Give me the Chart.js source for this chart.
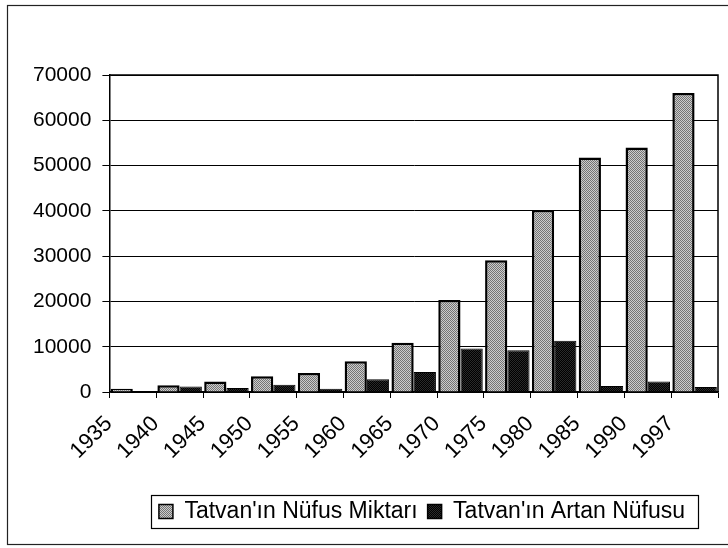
<!DOCTYPE html>
<html>
<head>
<meta charset="utf-8">
<script src="https://cdn.jsdelivr.net/npm/chart.js@4"></script>
<style>
  html, body { margin: 0; padding: 0; background: #fff; }
  #wrap { width: 728px; height: 548px; }
</style>
</head>
<body>
<div id="wrap"><canvas id="myChart" width="728" height="548"></canvas></div>
<script>
var years = ['1935', '1940', '1945', '1950', '1955', '1960', '1965', '1970', '1975', '1980', '1985', '1990', '1997'];
var nufusMiktari = [700, 1500, 2300, 3500, 4200, 6800, 10900, 20300, 29100, 40200, 51800, 54000, 66000];
var artanNufus = [100, 1200, 900, 1600, 700, 2800, 4400, 9600, 9200, 11300, 1300, 2300, 1100];
var yTicks = [0, 10000, 20000, 30000, 40000, 50000, 60000, 70000];

// dithered fills like the scanned print
function makePattern(light, dark) {
    var c = document.createElement('canvas');
    c.width = 4; c.height = 4;
    var p = c.getContext('2d');
    p.fillStyle = light;
    p.fillRect(0, 0, 4, 4);
    p.fillStyle = dark;
    for (var y = 0; y < 4; y++) {
        for (var x = 0; x < 4; x++) {
            if ((x + y) % 2 === 0) p.fillRect(x, y, 1, 1);
        }
    }
    return p.createPattern(c, 'repeat');
}
var grayFill = makePattern('#cccccc', '#747474');
var darkFill = makePattern('#000000', '#2a2a2a');

var FONT = "'Liberation Sans', Arial, sans-serif";

var framePlugin = {
    id: 'frames',
    afterLayout: function(chart) {
        // legend sits a bit right of centre in the original
        chart.legend.left += 52;
        chart.legend.right += 52;
    },
    afterDraw: function(chart) {
        var ctx = chart.ctx, a = chart.chartArea;
        ctx.save();
        ctx.strokeStyle = '#000';
        ctx.lineWidth = 1.5;
        ctx.beginPath();
        ctx.moveTo(a.left, a.top);
        ctx.lineTo(a.right, a.top);
        ctx.lineTo(a.right, a.bottom);
        ctx.stroke();

        // outer border
        ctx.lineWidth = 1.2;
        ctx.strokeStyle = '#222';
        ctx.strokeRect(7.5, 5.5, 740, 539);

        // legend outline
        var hb = chart.legend.legendHitBoxes;
        if (hb && hb.length) {
            var first = hb[0], last = hb[hb.length - 1];
            var x0 = first.left - 8;
            var x1 = last.left + last.width + 13;
            var yc = first.top + first.height / 2;
            ctx.lineWidth = 1.2;
            ctx.strokeStyle = '#000';
            ctx.strokeRect(Math.round(x0) + 0.5, Math.round(yc - 17) + 0.5, Math.round(x1 - x0), 33);
        }
        ctx.restore();
    }
};

var ctx = document.getElementById('myChart').getContext('2d');
var myChart = new Chart(ctx, {
    type: 'bar',
    data: {
        labels: years,
        datasets: [{
            label: "Tatvan'ın Nüfus Miktarı",
            data: nufusMiktari,
            backgroundColor: grayFill,
            borderColor: '#000',
            borderWidth: 2.5,
            barPercentage: 1.0,
            categoryPercentage: 0.95
        }, {
            label: "Tatvan'ın Artan Nüfusu",
            data: artanNufus,
            backgroundColor: darkFill,
            borderColor: '#000',
            borderWidth: 1,
            barPercentage: 1.0,
            categoryPercentage: 0.95
        }]
    },
    options: {
        responsive: false,
        animation: false,
        layout: {
            padding: { top: 75, left: 22, right: 10, bottom: 15 }
        },
        plugins: {
            legend: {
                position: 'bottom',
                align: 'center',
                labels: {
                    color: '#000',
                    font: { family: FONT, size: 23 },
                    boxWidth: 14,
                    boxHeight: 14,
                    padding: 10,
                    generateLabels: function(chart) {
                        return chart.data.datasets.map(function(ds, i) {
                            return {
                                text: ds.label,
                                fillStyle: ds.backgroundColor,
                                strokeStyle: '#000',
                                lineWidth: 1.5,
                                datasetIndex: i,
                                fontColor: '#000'
                            };
                        });
                    }
                }
            },
            tooltip: { enabled: false }
        },
        scales: {
            x: {
                grid: {
                    display: true,
                    drawOnChartArea: false,
                    color: '#000',
                    tickLength: 6,
                    offset: true
                },
                border: { display: true, color: '#000', width: 1.5 },
                ticks: {
                    color: '#000',
                    font: { family: FONT, size: 22 },
                    maxRotation: 45,
                    minRotation: 45,
                    padding: 13,
                    labelOffset: -24
                },
                afterFit: function(scale) {
                    scale.height = 98;
                    scale.paddingLeft = 0;
                    scale.paddingRight = 0;
                }
            },
            y: {
                min: 0,
                max: 70000,
                afterBuildTicks: function(scale) {
                    scale.ticks = yTicks.map(function(v) { return { value: v }; });
                },
                grid: {
                    color: '#000',
                    lineWidth: 1,
                    tickLength: 7
                },
                border: { display: true, color: '#000', width: 1.5 },
                ticks: {
                    color: '#000',
                    font: { family: FONT, size: 21 },
                    padding: 11,
                    callback: function(v) { return String(v); }
                }
            }
        }
    },
    plugins: [framePlugin]
});
</script>
</body>
</html>
